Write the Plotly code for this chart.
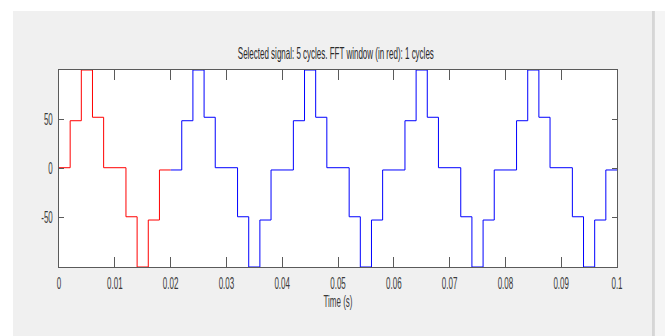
import plotly.graph_objects as go

# Staircase output voltage: start time of each step (s) and its level (V)
step_time_s = [
    0.000, 0.002, 0.004, 0.006, 0.008, 0.012, 0.014, 0.016, 0.018,
    0.022, 0.024, 0.026, 0.028, 0.032, 0.034, 0.036, 0.038,
    0.042, 0.044, 0.046, 0.048, 0.052, 0.054, 0.056, 0.058,
    0.062, 0.064, 0.066, 0.068, 0.072, 0.074, 0.076, 0.078,
    0.082, 0.084, 0.086, 0.088, 0.092, 0.094, 0.096, 0.098,
]
step_level = [
    0.8, 48.5, 100, 52, 0.8, -49, -100, -52.3, -1.5,
    48.5, 100, 52, 0.8, -49, -100, -52.3, -1.5,
    48.5, 100, 52, 0.8, -49, -100, -52.3, -1.5,
    48.5, 100, 52, 0.8, -49, -100, -52.3, -1.5,
    48.5, 100, 52, 0.8, -49, -100, -52.3, -1.5,
]
signal_end_s = 0.1
fft_window_end_s = 0.02
n_window_steps = 9

x_tick_vals = [0, 0.01, 0.02, 0.03, 0.04, 0.05, 0.06, 0.07, 0.08, 0.09, 0.1]
x_tick_text = ["0", "0.01", "0.02", "0.03", "0.04", "0.05", "0.06", "0.07", "0.08", "0.09", "0.1"]
y_tick_vals = [-50, 0, 50]
y_tick_text = ["-50", "0", "50"]

# FFT window part (red) and the rest of the selected signal (blue)
win_x = step_time_s[:n_window_steps] + [fft_window_end_s]
win_y = step_level[:n_window_steps] + [step_level[n_window_steps - 1]]
rest_x = [fft_window_end_s] + step_time_s[n_window_steps:] + [signal_end_s]
rest_y = [step_level[n_window_steps - 1]] + step_level[n_window_steps:] + [step_level[-1]]

font_family = "Liberation Sans, Arial, sans-serif"
text_color = "#3a3a3a"
frame_color = "#5a5a5a"

fig = go.Figure()
fig.add_trace(go.Scatter(x=rest_x, y=rest_y, mode="lines", line_shape="hv",
                         line=dict(color="#0000ff", width=1), showlegend=False,
                         hoverinfo="skip"))
fig.add_trace(go.Scatter(x=win_x, y=win_y, mode="lines", line_shape="hv",
                         line=dict(color="#ff0000", width=1), showlegend=False,
                         hoverinfo="skip"))

axis_common = dict(
    showline=True, linecolor=frame_color, linewidth=1, mirror="ticks",
    ticks="inside", tickcolor=frame_color, tickwidth=1,
    showgrid=False, zeroline=False,
    tickfont=dict(family=font_family, size=16, color=text_color),
)

fig.update_xaxes(range=[0, 0.1], tickvals=x_tick_vals, ticktext=x_tick_text,
                 ticklen=10, ticklabelstandoff=2,
                 title=dict(text="Time (s)", standoff=4,
                            font=dict(family=font_family, size=16, color=text_color)),
                 **axis_common)
fig.update_yaxes(range=[-100, 100], tickvals=y_tick_vals, ticktext=y_tick_text,
                 ticklen=5, ticklabelstandoff=2, **axis_common)

# window chrome around the axes panel
fig.add_shape(type="rect", xref="paper", yref="paper", x0=-0.2, x1=1.2, y0=1.30, y1=1.5,
              fillcolor="#ffffff", line_width=0, layer="below")
fig.add_shape(type="rect", xref="paper", yref="paper", x0=-0.2, x1=-0.0824, y0=-0.5, y1=1.5,
              fillcolor="#ffffff", line_width=0, layer="below")
fig.add_shape(type="rect", xref="paper", yref="paper", x0=1.0627, x1=1.068, y0=-0.5, y1=1.30,
              fillcolor="#d6d6d6", line_width=0, layer="below")
fig.add_shape(type="rect", xref="paper", yref="paper", x0=1.068, x1=1.2, y0=-0.5, y1=1.30,
              fillcolor="#f5f5f5", line_width=0, layer="below")

fig.update_layout(
    width=665, height=336,
    margin=dict(l=59, r=48, t=70, b=69),
    paper_bgcolor="#f0f0f0", plot_bgcolor="#ffffff",
    title=dict(text="Selected signal: 5 cycles. FFT window (in red): 1 cycles",
               x=0.505, xanchor="center", y=1 - 53 / 336, yanchor="middle",
               yref="container",
               font=dict(family=font_family, size=16, color="#2a2a2a")),
)

# narrow the lettering horizontally, keeping each label's anchor point fixed
squeeze_js = """
var gd = document.getElementById('{plot_id}');
function squeezeText() {
  gd.querySelectorAll('text').forEach(function (t) {
    var tr = t.getAttribute('transform') || '';
    if (tr.indexOf('scale(0.5,1)') !== -1) return;
    var x = parseFloat(t.getAttribute('x')) || 0;
    t.setAttribute('transform', tr + ' translate(' + x + ',0) scale(0.5,1) translate(' + (-x) + ',0)');
  });
}
squeezeText();
gd.on('plotly_afterplot', squeezeText);
"""

fig.write_html("out.html", post_script=squeeze_js, config={"displayModeBar": False})
